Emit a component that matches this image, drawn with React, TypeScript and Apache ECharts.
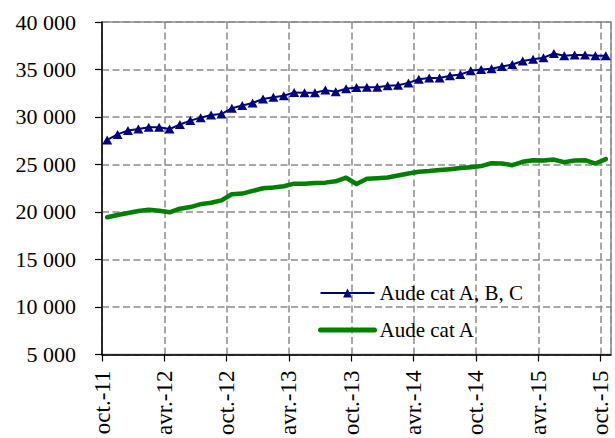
import { useEffect, useRef } from 'react';
import * as echarts from 'echarts';

const months = [
  'oct.-11', 'nov.-11', 'déc.-11',
  'janv.-12', 'févr.-12', 'mars-12', 'avr.-12', 'mai-12', 'juin-12', 'juil.-12', 'août-12', 'sept.-12', 'oct.-12', 'nov.-12', 'déc.-12',
  'janv.-13', 'févr.-13', 'mars-13', 'avr.-13', 'mai-13', 'juin-13', 'juil.-13', 'août-13', 'sept.-13', 'oct.-13', 'nov.-13', 'déc.-13',
  'janv.-14', 'févr.-14', 'mars-14', 'avr.-14', 'mai-14', 'juin-14', 'juil.-14', 'août-14', 'sept.-14', 'oct.-14', 'nov.-14', 'déc.-14',
  'janv.-15', 'févr.-15', 'mars-15', 'avr.-15', 'mai-15', 'juin-15', 'juil.-15', 'août-15', 'sept.-15', 'oct.-15',
];

const catABC = [
  27590, 28170, 28590, 28730, 28930, 28930, 28730, 29210, 29620, 29930, 30210, 30310,
  30930, 31210, 31480, 31900, 32070, 32240, 32590, 32550, 32550, 32830, 32660, 32970,
  33100, 33140, 33140, 33280, 33350, 33590, 33970, 34100, 34100, 34350, 34480, 34860,
  35000, 35070, 35310, 35520, 35900, 36070, 36240, 36690, 36450, 36520, 36520, 36450,
  36450,
];

const catA = [
  19450, 19690, 19900, 20100, 20240, 20140, 19970, 20350, 20520, 20830, 20970, 21220,
  21870, 21940, 22220, 22500, 22570, 22710, 22980, 22980, 23050, 23090, 23230, 23610,
  22950, 23490, 23560, 23630, 23850, 24060, 24240, 24310, 24410, 24510, 24620, 24720,
  24830, 25140, 25100, 24930, 25280, 25450, 25420, 25520, 25240, 25420, 25450, 25100,
  25560,
];

const seriesNames = ['Aude cat A, B, C', 'Aude cat A'];

const FONT = 'Liberation Serif';

function fmtThousands(v: number): string {
  const s = String(Math.round(v));
  if (s.length <= 3) return s;
  return s.slice(0, s.length - 3) + '\u00a0' + s.slice(s.length - 3);
}

export default function App() {
  const ref = useRef<HTMLDivElement>(null);
  useEffect(() => {
    if (!ref.current) return;
    const chart = echarts.init(ref.current, undefined, { renderer: 'svg' });
    chart.setOption({
      animation: false,
      backgroundColor: '#ffffff',
      textStyle: { fontFamily: FONT, fontSize: 21, color: '#000' },
      grid: {
        left: 102,
        right: 4,
        top: 22,
        bottom: 80,
        show: true,
        borderColor: '#8c8c8c',
        borderWidth: 1.5,
        backgroundColor: 'transparent',
      },
      legend: {
        data: [
          { name: seriesNames[0] },
          {
            name: seriesNames[1],
            itemStyle: { color: 'rgba(0,0,0,0)', borderColor: 'rgba(0,0,0,0)', borderWidth: 0 },
            lineStyle: { color: '#008000', width: 5, cap: 'round' },
          },
        ],
        orient: 'vertical',
        left: 318,
        top: 281,
        itemWidth: 54,
        itemHeight: 11,
        itemGap: 13,
        padding: 0,
        textStyle: { fontFamily: FONT, fontSize: 21, color: '#000', lineHeight: 24 },
      },
      xAxis: {
        type: 'value',
        min: 0,
        max: months.length,
        interval: 6,
        axisLine: { show: true, lineStyle: { color: '#000', width: 1.5 } },
        axisTick: { show: true, length: 7, lineStyle: { color: '#000', width: 1.2 } },
        axisLabel: {
          rotate: 90,
          margin: 16,
          fontFamily: FONT,
          fontSize: 23,
          color: '#000',
          padding: [12, 0, 0, 0],
          showMaxLabel: false,
          formatter: (v: number) => months[v] ?? '',
        },
        splitLine: { show: true, lineStyle: { color: '#8c8c8c', width: 1.5, type: [7, 3.5] } },
      },
      yAxis: {
        type: 'value',
        min: 5000,
        max: 40000,
        interval: 5000,
        axisLine: { show: true, lineStyle: { color: '#000', width: 1.5 } },
        axisTick: { show: true, length: 7, lineStyle: { color: '#000', width: 1.2 } },
        axisLabel: {
          margin: 26,
          fontFamily: FONT,
          fontSize: 22,
          color: '#000',
          formatter: (v: number) => fmtThousands(v),
        },
        splitLine: { show: true, lineStyle: { color: '#8c8c8c', width: 1.5, type: [7, 3.5] } },
      },
      series: [
        {
          name: seriesNames[0],
          type: 'line',
          data: catABC.map((v, i) => [i + 0.5, v]),
          symbol: 'triangle',
          symbolSize: [10, 9],
          showAllSymbol: true,
          lineStyle: { color: '#000080', width: 2 },
          itemStyle: { color: '#000080' },
          z: 3,
        },
        {
          name: seriesNames[1],
          type: 'line',
          data: catA.map((v, i) => [i + 0.5, v]),
          symbol: 'none',
          lineStyle: { color: '#008000', width: 4.5, cap: 'round', join: 'round' },
          itemStyle: { color: '#008000' },
          z: 2,
        },
      ],
    });
    return () => chart.dispose();
  }, []);
  return (
    <div
      ref={ref}
      style={{ position: 'fixed', left: 0, top: 0, width: 615, height: 438, background: '#fff' }}
    />
  );
}
